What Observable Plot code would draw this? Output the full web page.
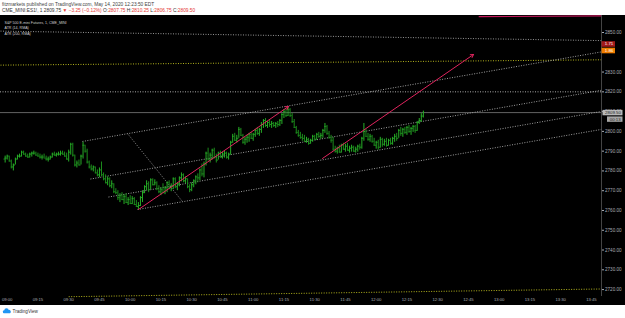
<!DOCTYPE html>
<html><head><meta charset="utf-8">
<script src="https://cdn.jsdelivr.net/npm/d3@7"></script>
<script src="https://cdn.jsdelivr.net/npm/@observablehq/plot@0.6"></script>
<style>
html,body{margin:0;padding:0;background:#fff;width:625px;height:318px;overflow:hidden;font-family:"Liberation Sans",Arial,sans-serif;}
#hdr{height:15px;position:relative;color:#333;}
#hdr svg,#ftr svg{display:block;}
#chart svg{display:block;}
#ftr{height:13px;position:relative;}
</style></head><body>
<div id="hdr"></div>
<div id="chart"></div>
<div id="ftr"></div>
<script>
// ---------- data ----------
const firstBar = "08:59";
const firstOpen = 2786;
const lows = [
2784,2785.5,2784.5,2781,2780, 2783,2785.5,2786.5,2787,2788, 2787,2786.5,2786.5,2787,2788,
2787.5,2787,2786,2785.5,2786.5, 2785,2784.5,2785.5,2786.5,2787.5, 2787,2787.5,2787.5,2788,2787,
2785.5,2784.5,2788,2787,2782, 2781.5,2782.5,2783,2786,2789, 2783.5,2781,2780,2779.5,2778.5,
2777,2776.5,2777,2775,2773.5, 2772.5,2771.5,2771,2768.5,2768, 2765,2764,2765,2763,2763.5,
2762.5,2763,2763,2762.5,2761.5, 2760.5,2762,2764,2768.5,2770, 2769,2771.5,2772.5,2772.5,2770,
2768.5,2767.5,2768.5,2768,2769, 2770.5,2769.5,2770.5,2771,2770, 2772,2774.5,2774,2773.5,2771,
2769,2769.5,2771.5,2773,2774, 2775,2777,2776.5,2782.5,2785, 2784,2785.5,2786,2784,2785.5,
2786.5,2786,2786.5,2786,2785.5, 2788,2794,2795,2794,2796.5, 2797.5,2793.5,2793,2794,2794.5,
2796,2795,2797,2798,2797.5, 2799,2801.5,2802,2801.5,2802, 2801.5,2802,2801.5,2802,2802.5,
2803.5,2806.5,2807,2807.5,2807, 2804,2801.5,2798.5,2797,2796, 2795,2794.5,2794,2793,2793.5,
2794.5,2795.5,2795.5,2796.5,2796, 2796.5,2799,2798,2796,2794, 2790,2789,2788.5,2789,2789,
2790.5,2789.5,2790,2789,2789.5, 2789.5,2789,2789.5,2790.5,2791, 2795,2797,2795,2794.5,2794,
2792.5,2791,2790.5,2791.5,2792, 2792.5,2792,2792.5,2793,2793, 2794.5,2795,2796.5,2797.5,2797,
2798.5,2798,2799,2798,2799.5, 2799,2800,2803.5,2804.5,2806.75];
const highs = [
2787.5,2788,2787.5,2785.5,2783.5, 2786.5,2788,2788.5,2790,2790, 2789,2788.5,2789,2789.5,2790,
2789.5,2789,2788.5,2788,2788.5, 2787.5,2787,2787.5,2789,2789.5, 2789,2789.5,2790,2790,2789.5,
2789,2790.5,2794,2794,2788, 2785,2785.5,2788,2794.5,2793, 2791,2785,2783,2782.5,2782,
2780.5,2781.5,2784.5,2779,2778, 2777,2776.5,2775,2771.5,2771, 2770,2768.5,2769,2768,2768.5,
2766.5,2767.5,2767,2766.5,2765, 2764,2767,2770,2772.5,2775, 2774.5,2776,2776,2775.5,2774.5,
2772.5,2771.5,2773.5,2772,2774.5, 2775,2773.5,2776.5,2776.5,2774, 2777,2779,2778.5,2777,2776,
2773,2774,2775.5,2777.5,2778.5, 2781,2783.5,2784.5,2789.5,2791.5, 2789,2791,2791.5,2788.5,2789.5,
2790,2789.5,2790,2789.5,2789, 2795,2798.5,2799,2798,2802, 2801.5,2798.5,2797,2798,2799,
2799.5,2799,2801,2802,2801.5, 2804.5,2806,2806.5,2805,2806, 2805,2804.5,2804.5,2805,2806,
2809,2811,2811.5,2812.5,2811.5, 2809,2806,2802.5,2800.5,2799.5, 2798.5,2798,2797,2796.5,2796,
2798,2798,2799,2799.5,2799, 2801,2804,2803,2800,2798, 2797,2792.5,2792,2793,2793.5,
2794,2793.5,2794,2792.5,2793, 2792.5,2792,2793,2793.5,2797, 2804,2801,2799,2798.5,2798,
2796.5,2795,2795.5,2797,2796.5, 2796,2796.5,2796,2796.5,2797, 2798.5,2799,2801,2802,2801.5,
2802,2802.5,2803,2802,2803, 2803,2805,2806.5,2809,2810.25];
const closes = [
2786.5,2787.5,2785,2782,2783, 2786,2787.5,2787.5,2789.5,2788.5, 2787.5,2787,2788.5,2789,2789,
2788,2787.5,2787,2787,2786.5, 2786,2786,2787,2788.5,2788, 2788.5,2788.5,2789,2788.5,2787.5,
2786,2789.5,2793.5,2788,2783, 2784,2783,2787.5,2793,2790, 2784.5,2782,2781,2782,2779,
2778,2780.5,2778,2776,2774, 2776,2772.5,2773.5,2769.5,2769, 2766.5,2767.5,2765.5,2767,2764,
2765.5,2763.5,2766,2763,2762, 2762.5,2766.5,2769,2772,2773.5, 2770.5,2775.5,2773,2774,2771,
2769.5,2770.5,2769,2771.5,2774, 2771.5,2772.5,2776,2772,2773.5, 2776.5,2778,2775,2776,2772,
2770.5,2773,2775,2777,2776.5, 2780.5,2778.5,2783.5,2789,2786, 2788,2790.5,2787,2785.5,2789,
2787,2788.5,2789,2787,2788.5, 2794.5,2797.5,2795.5,2796.5,2801, 2798,2794.5,2796,2797,2798.5,
2796.5,2798.5,2800.5,2799,2801, 2803.5,2805.5,2803,2804.5,2803.5, 2804,2803,2804,2803.5,2805.5,
2808.5,2810,2808,2811,2808, 2805,2802,2799.5,2798,2797, 2796.5,2795,2796,2794,2795.5,
2797.5,2796,2798.5,2797.5,2798, 2800.5,2802.5,2799,2797,2795.5, 2791,2790,2791.5,2789.5,2793,
2791,2792.5,2790.5,2791.5,2792, 2790,2791,2792.5,2792,2796.5, 2800,2797.5,2796,2797.5,2795,
2793,2794.5,2792,2796,2793.5, 2795,2793,2795.5,2794,2796.5, 2797.5,2796.5,2800.5,2799,2801,
2799.5,2802,2800,2801.5,2802.5, 2800.5,2804.5,2805.5,2807.75,2809.5];

const viewTimes = ["08:56:44", "13:49:54"];
const priceView = [2716.5, 2858.6];
// 2840.00 is hidden behind the indicator value labels in the reference
const priceTicks = [2720,2730,2740,2750,2760,2770,2780,2790,2800,2810,2820,2830,2850];
const timeTicks = ["09:00","09:15","09:30","09:45","10:00","10:15","10:30","10:45","11:00","11:15","11:30","11:45","12:00","12:15","12:30","12:45","13:00","13:15","13:30","13:45"];

// parallel channel (drawn on the chart) : start time/price, end price at right edge
const channelStarts = ["09:36:42","09:40:36","09:49:24","10:03:36"];
const channelStartPrices = [2794.9, 2775.9, 2766.8, 2760.5];
const channelEndPrices = [2840.2, 2820.8, 2810.1, 2801.0];
const widthMarker = [["09:58:42", 2798.9], ["10:25:30", 2764.5]];
const arrowLines = [
  {t1:"10:04:03", p1:2760.5, t2:"11:17:12", p2:2812.6},
  {t1:"11:33:48", p1:2786.3, t2:"12:47:30", p2:2838.9}
];
const atrLine200 = [2850.7, 2845.9];
const yellowUpper = [2833.5, 2836.2];
const yellowLower = {start:"09:30:00", p1:2716.4, p2:2720.3};
const redTop = {start:"12:50:00", p1:2858.0, p2:2858.4};
const levelLine = 2820;
const lastPrice = 2809.5;
const atrLabels = ["1.71", "1.86"];
const atrLevels = [2844.2, 2840.9];
const countdown = "00:13";
const legendLines = ["S&P 500 E-mini Futures, 1, CME_MINI", "ATR (14, RMA)", "ATR (200, RMA)"];
const headerLine1 = "fitzmarkets published on TradingView.com, May 14, 2020 12:23:50 EDT";
const headerSymbol = "CME_MINI:ES1!, 1";
const headerLast = "2809.75";
const headerChange = "\u22123.25 (\u22120.12%)";
const headerOHLC = [["O:", "2807.75"], ["H:", "2810.25"], ["L:", "2806.75"], ["C:", "2809.50"]];

// ---------- build ----------
const pHM = d3.utcParse("%H:%M"), pHMS = d3.utcParse("%H:%M:%S");
const t0 = pHM(firstBar);
const bars = closes.map((c, i) => ({
  t: d3.utcMinute.offset(t0, i),
  o: i ? closes[i - 1] : firstOpen, h: highs[i], l: lows[i], c
}));
const viewStart = pHMS(viewTimes[0]), viewEnd = pHMS(viewTimes[1]);
const W = 625, H = 290, MR = 24, MB = 9;
const msPerPx = (viewEnd - viewStart) / (W - MR);
const gut = px => new Date(+viewEnd + px * msPerPx);
const up = "#27ae27", dn = "#1c8c1c";
const col = d => d.c >= d.o ? up : dn;

const channels = channelStarts.map((s, i) => ({t1: pHMS(s), p1: channelStartPrices[i], t2: viewEnd, p2: channelEndPrices[i]}));
const arrows = arrowLines.map(a => ({t1: pHMS(a.t1), p1: a.p1, t2: pHMS(a.t2), p2: a.p2}));
const fixedLines = [
  {t1: viewStart, p1: atrLine200[0], t2: viewEnd, p2: atrLine200[1]},
];
const yellows = [
  {t1: viewStart, p1: yellowUpper[0], t2: viewEnd, p2: yellowUpper[1]},
  {t1: pHMS(yellowLower.start), p1: yellowLower.p1, t2: viewEnd, p2: yellowLower.p2}
];

const chart = Plot.plot({
  width: W, height: H,
  marginTop: 0, marginLeft: 0, marginRight: MR, marginBottom: MB,
  style: {background: "#000", color: "#a9acb4", fontFamily: "Liberation Sans, Arial, sans-serif", fontSize: "4.6px", overflow: "visible"},
  x: {type: "utc", domain: [viewStart, viewEnd], axis: null},
  y: {domain: priceView, axis: null},
  marks: [
    Plot.ruleY([levelLine], {stroke: "#bdbdbd", strokeDasharray: "1,1.5", strokeWidth: 0.9}),
    Plot.ruleY([lastPrice], {stroke: "#6e6e6e", strokeWidth: 0.9}),
    Plot.link(yellows, {x1: "t1", y1: "p1", x2: "t2", y2: "p2", stroke: "#c8c820", strokeDasharray: "1,1.5", strokeWidth: 0.9}),
    Plot.link(fixedLines, {x1: "t1", y1: "p1", x2: "t2", y2: "p2", stroke: "#a8a8a8", strokeDasharray: "1,1.5", strokeWidth: 0.9}),
    Plot.link([redTop], {x1: d => pHMS(d.start), y1: "p1", x2: viewEnd, y2: "p2", stroke: "#c2185b", strokeWidth: 1.2}),
    Plot.link(channels, {x1: "t1", y1: "p1", x2: "t2", y2: "p2", stroke: "#b0b0b0", strokeDasharray: "1,1.5", strokeWidth: 0.9}),
    Plot.link([widthMarker], {x1: d => pHMS(d[0][0]), y1: d => d[0][1], x2: d => pHMS(d[1][0]), y2: d => d[1][1], stroke: "#9a9a9a", strokeDasharray: "1,1.5", strokeWidth: 0.9}),
    Plot.ruleX(bars, {x: "t", y1: d => Math.min(d.l, d.o, d.c), y2: d => Math.max(d.h, d.o, d.c), stroke: col, strokeWidth: 1}),
    Plot.ruleY(bars, {y: "o", x1: d => new Date(+d.t - 30000), x2: "t", stroke: col, strokeWidth: 1}),
    Plot.ruleY(bars, {y: "c", x1: "t", x2: d => new Date(+d.t + 30000), stroke: col, strokeWidth: 1}),
    Plot.arrow(arrows, {x1: "t1", y1: "p1", x2: "t2", y2: "p2", stroke: "#e0245e", strokeWidth: 1, headLength: 5}),
    Plot.text([legendLines.join("\n")], {frameAnchor: "top-left", dx: 4, dy: 4, lineHeight: 1.6, fill: "#cfcfcf", fontSize: 3.6, textAnchor: "start"}),
    Plot.ruleX([viewEnd], {stroke: "#555", strokeWidth: 0.8}),
    Plot.axisY(priceTicks, {anchor: "right", tickSize: 2, tickPadding: 1.5, tickFormat: d => d.toFixed(2), fontSize: 4.6}),
    Plot.axisX(timeTicks.map(pHM), {anchor: "bottom", tickSize: 0, tickPadding: 2, tickFormat: d3.utcFormat("%H:%M"), fontSize: 4.2}),
    Plot.ruleY([atrLevels[0]], {x1: gut(0.5), x2: gut(14), stroke: "#a31a1a", strokeWidth: 5.6}),
    Plot.ruleY([atrLevels[1]], {x1: gut(0.5), x2: gut(14), stroke: "#f07d00", strokeWidth: 5.6}),
    Plot.text([0, 1], {x: gut(7.5), y: i => atrLevels[i], text: i => atrLabels[i], fill: "#fff", fontSize: 4.4, textAnchor: "middle"}),
    Plot.ruleY([lastPrice], {x1: gut(1.5), x2: gut(21.5), stroke: "#b9b9b9", strokeWidth: 5.4}),
    Plot.text([lastPrice], {x: gut(11.5), y: d => d, text: d => d.toFixed(2), fill: "#222", fontSize: 4.4, textAnchor: "middle"}),
    Plot.ruleY([lastPrice - 3.3], {x1: gut(6), x2: gut(21.5), stroke: "#a6a6a6", strokeWidth: 5.4}),
    Plot.text([lastPrice - 3.3], {x: gut(13.75), y: d => d, text: () => countdown, fill: "#222", fontSize: 4.4, textAnchor: "middle"})
  ]
});
document.getElementById("chart").appendChild(chart);

// header
const hdr = d3.select("#hdr").append("svg").attr("width", W).attr("height", 15)
  .style("font-family", "Liberation Sans, Arial, sans-serif");
hdr.append("text").attr("x", 2).attr("y", 6).attr("font-size", 4.8).attr("fill", "#444").text(headerLine1);
const l2 = hdr.append("text").attr("x", 2).attr("y", 11.8).attr("font-size", 4.8).attr("fill", "#333");
l2.append("tspan").text(headerSymbol + "  ");
l2.append("tspan").text(headerLast + " ");
l2.append("tspan").attr("fill", "#e53935").text("\u25BC ");
l2.append("tspan").attr("fill", "#e53935").text(headerChange + " ");
headerOHLC.forEach(([k, v]) => {
  l2.append("tspan").text(k);
  l2.append("tspan").attr("fill", "#e53935").text(v + " ");
});

// footer logo
const ftr = d3.select("#ftr").append("svg").attr("width", W).attr("height", 13)
  .style("font-family", "Liberation Sans, Arial, sans-serif");
const g = ftr.append("g").attr("fill", "#2196f3");
g.append("circle").attr("cx", 6.5).attr("cy", 5.5).attr("r", 2.2);
g.append("circle").attr("cx", 9).attr("cy", 6.3).attr("r", 1.6);
g.append("circle").attr("cx", 4.3).attr("cy", 6.6).attr("r", 1.4);
g.append("rect").attr("x", 3).attr("y", 6.5).attr("width", 7.6).attr("height", 1.8).attr("rx", 0.8);
ftr.append("text").attr("x", 12.5).attr("y", 8.4).attr("font-size", 4.6).attr("fill", "#333").text("TradingView");
</script></body></html>
